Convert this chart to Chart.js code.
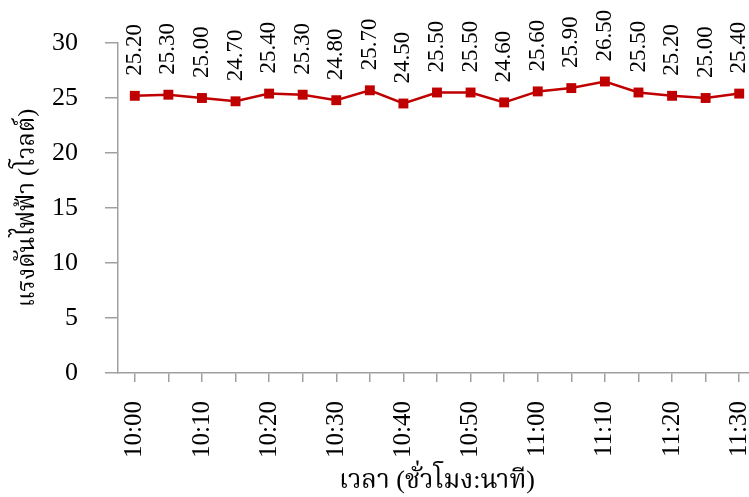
<!DOCTYPE html>
<html>
<head>
<meta charset="utf-8">
<script src="https://cdn.jsdelivr.net/npm/chart.js@4.4.1/dist/chart.umd.min.js"></script>
<style>
html,body{margin:0;padding:0;background:#fff;overflow:hidden;width:749px;height:497px;}
canvas{display:block;}
</style>
</head>
<body>
<canvas id="c" width="763" height="497"></canvas>
<script>
const times = ['10:00','10:05','10:10','10:15','10:20','10:25','10:30','10:35','10:40','10:45','10:50','10:55','11:00','11:05','11:10','11:15','11:20','11:25','11:30'];
const voltage = [25.20,25.30,25.00,24.70,25.40,25.30,24.80,25.70,24.50,25.50,25.50,24.60,25.60,25.90,26.50,25.50,25.20,25.00,25.40];
const yTicks = [0,5,10,15,20,25,30];
const xTitle = 'เวลา (ชั่วโมง:นาที)';
const yTitle = 'แรงดันไฟฟ้า (โวลต์)';

const SERIF = '"Liberation Serif", "Noto Serif Thai", "Noto Sans Thai", "Noto Sans", serif';
const AXIS = '#a0a0a0';

const valueLabels = {
  id: 'valueLabels',
  afterDatasetsDraw(chart) {
    const ctx = chart.ctx;
    const meta = chart.getDatasetMeta(0);
    ctx.save();
    ctx.font = '23px ' + SERIF;
    ctx.fillStyle = '#000';
    ctx.textAlign = 'left';
    ctx.textBaseline = 'middle';
    meta.data.forEach((pt, i) => {
      ctx.save();
      ctx.translate(pt.x, pt.y - 20);
      ctx.rotate(-Math.PI / 2);
      ctx.fillText(voltage[i].toFixed(2), 0, 0);
      ctx.restore();
    });
    ctx.restore();
  }
};

new Chart(document.getElementById('c'), {
  type: 'line',
  data: {
    labels: times,
    datasets: [{
      data: voltage,
      borderColor: '#c00000',
      backgroundColor: '#c00000',
      borderWidth: 2.5,
      pointStyle: 'rect',
      pointRadius: 7,
      pointBorderWidth: 0,
      tension: 0,
      clip: false
    }]
  },
  options: {
    responsive: false,
    animation: false,
    devicePixelRatio: 1,
    layout: { padding: { top: 43, left: 0, right: 0, bottom: 0 } },
    plugins: { legend: { display: false }, tooltip: { enabled: false } },
    scales: {
      x: {
        type: 'category',
        offset: true,
        grid: { display: true, drawOnChartArea: false, drawTicks: true, tickLength: 9, color: AXIS, lineWidth: 1.5, offset: false },
        border: { display: true, color: AXIS, width: 1.5 },
        ticks: {
          autoSkip: false,
          minRotation: 90, maxRotation: 90,
          padding: 19,
          color: '#000',
          font: { family: SERIF, size: 25 },
          callback: function(v, i) { return i % 2 === 0 ? times[i] : ''; }
        },
        title: { display: true, text: xTitle, color: '#000', font: { family: SERIF, size: 26 }, padding: { top: -5, bottom: 0 } },
        afterFit(scale) { scale.height = 124; scale.paddingLeft = 0; scale.paddingRight = 0; }
      },
      y: {
        min: 0, max: 30,
        afterBuildTicks(scale) { scale.ticks = yTicks.map(v => ({ value: v })); },
        grid: { display: true, drawOnChartArea: false, drawTicks: true, tickLength: 13, color: AXIS, lineWidth: 1.5 },
        border: { display: true, color: AXIS, width: 1.5 },
        ticks: { padding: 27, color: '#000', font: { family: SERIF, size: 26 } },
        title: { display: true, text: yTitle, color: '#000', font: { family: SERIF, size: 24 }, padding: { top: 13, bottom: 0 } },
        afterFit(scale) { scale.width = 118; scale.paddingTop = 0; scale.paddingBottom = 0; }
      }
    }
  },
  plugins: [valueLabels]
});
</script>
</body>
</html>
